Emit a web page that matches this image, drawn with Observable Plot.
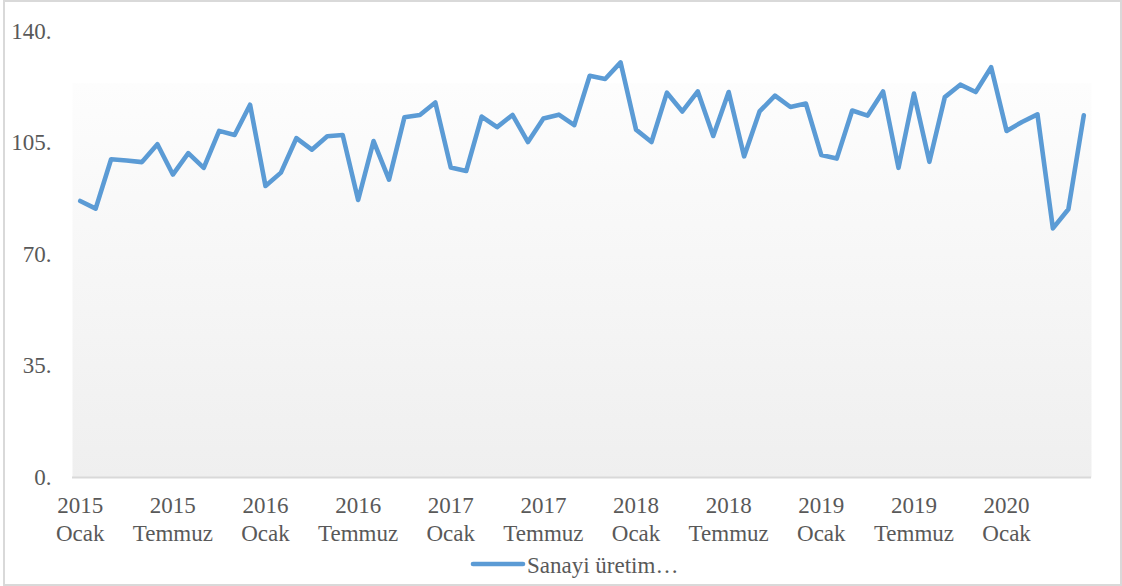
<!DOCTYPE html>
<html>
<head>
<meta charset="utf-8">
<script src="https://cdn.jsdelivr.net/npm/d3@7"></script>
<script src="https://cdn.jsdelivr.net/npm/@observablehq/plot@0.6"></script>
<style>
  html, body { margin: 0; padding: 0; background: #fff; }
  #wrap { position: relative; width: 1122px; height: 586px; overflow: hidden; }
  #chart svg { display: block; }
  #border { position: absolute; left: 3px; top: 0; width: 1119px; height: 586px; box-sizing: border-box; border: 2px solid #d9d9d9; pointer-events: none; }
  #legend { position: absolute; left: 0; top: 548px; width: 1122px; height: 38px; }
  #legend svg { display: block; }
</style>
</head>
<body>
<div id="wrap">
  <div id="chart"></div>
  <div id="legend"></div>
  <div id="border"></div>
</div>
<script>
// Series: Sanayi üretim endeksi, monthly from 2015 Ocak to 2020 Haziran
const seriesName = "Sanayi üretim…";
const startYear = 2015;
const monthNames = ["Ocak","Şubat","Mart","Nisan","Mayıs","Haziran","Temmuz","Ağustos","Eylül","Ekim","Kasım","Aralık"];
const values = [
  86.8, 84.4, 99.9, 99.5, 99.0, 104.6, 95.1, 101.8, 97.2, 108.8, 107.5, 117.0,
  91.5, 95.7, 106.5, 102.9, 107.1, 107.5, 87.1, 105.6, 93.5, 113.1, 113.8, 117.7,
  97.3, 96.2, 113.3, 110.0, 113.8, 105.3, 112.7, 113.9, 110.6, 126.1, 125.1, 130.3,
  109.2, 105.3, 120.8, 114.9, 121.2, 107.2, 121.0, 100.8, 114.9, 119.9, 116.3, 117.4,
  101.2, 100.1, 115.2, 113.6, 121.2, 97.2, 120.5, 99.1, 119.4, 123.3, 121.0, 128.8,
  108.8, 111.6, 114.0, 78.2, 84.2, 113.7
];
const xTickIndices = [0, 6, 12, 18, 24, 30, 36, 42, 48, 54, 60];
const yTicks = [0, 35, 70, 105, 140];

const data = values.map((v, i) => ({
  i,
  label: `${startYear + Math.floor(i / 12)}\n${monthNames[i % 12]}`,
  value: v
}));

const textColor = "#595959";
const lineColor = "#5b9bd5";
const font = "Liberation Serif, Times New Roman, serif";

const chart = Plot.plot({
  width: 1122,
  height: 548,
  marginTop: 31,
  marginBottom: 71,
  marginLeft: 72,
  marginRight: 31,
  style: { fontFamily: font, fontSize: "23px", color: textColor, background: "transparent" },
  x: { type: "linear", domain: [-0.5, values.length - 0.5] },
  y: { domain: [0, 140] },
  marks: [
    Plot.frame({ fill: "url(#plotBg)", stroke: null }),
    Plot.axisY({ ticks: yTicks, tickFormat: d => `${d}.`, tickSize: 0, tickPadding: 21, fill: textColor, fontSize: 23, label: null }),
    Plot.axisX({ ticks: xTickIndices, tickFormat: i => data[i].label, tickSize: 0, tickPadding: 16, fill: textColor, fontSize: 23, lineHeight: 1.22, label: null }),
    Plot.ruleY([0], { stroke: "#d9d9d9", strokeWidth: 2 }),
    Plot.lineY(data, { x: "i", y: "value", stroke: lineColor, strokeWidth: 4.6, strokeLinejoin: "round", strokeLinecap: "round" })
  ]
});

// gradient for plot area
const ns = "http://www.w3.org/2000/svg";
const defs = document.createElementNS(ns, "defs");
const grad = document.createElementNS(ns, "linearGradient");
grad.setAttribute("id", "plotBg");
grad.setAttribute("x1", "0"); grad.setAttribute("y1", "0");
grad.setAttribute("x2", "0"); grad.setAttribute("y2", "1");
[["0", "#ffffff"], ["0.115", "#ffffff"], ["0.117", "#fdfdfd"], ["1", "#efefef"]].forEach(([o, c]) => {
  const s = document.createElementNS(ns, "stop");
  s.setAttribute("offset", o); s.setAttribute("stop-color", c);
  grad.appendChild(s);
});
defs.appendChild(grad);
chart.insertBefore(defs, chart.firstChild);
document.getElementById("chart").appendChild(chart);

// legend (below the chart SVG)
const leg = d3.select("#legend").append("svg").attr("width", 1122).attr("height", 38);
leg.append("line").attr("x1", 473).attr("x2", 523).attr("y1", 16).attr("y2", 16)
  .attr("stroke", lineColor).attr("stroke-width", 4.6).attr("stroke-linecap", "round");
leg.append("text").attr("x", 527).attr("y", 24.5)
  .attr("font-family", font).attr("font-size", 23).attr("fill", textColor)
  .text(seriesName);
</script>
</body>
</html>
